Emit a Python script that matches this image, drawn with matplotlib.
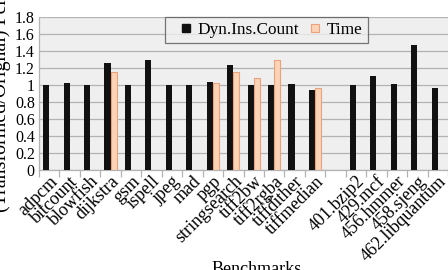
import matplotlib
matplotlib.use("Agg")
import matplotlib.pyplot as plt
from matplotlib.lines import Line2D
import numpy as np

categories = ["adpcm", "bitcount", "blowfish", "dijkstra", "gsm", "ispell", "jpeg",
              "mad", "pgp", "stringsearch", "tiff2bw", "tiff2rgba", "tiffdither",
              "tiffmedian", "", "401.bzip2", "429.mcf", "456.hmmer", "458.sjeng",
              "462.libquantum"]
dyn_ins = [1.00, 1.02, 1.00, 1.26, 1.00, 1.30, 1.00, 1.00, 1.04, 1.24, 1.00, 1.00,
           1.01, 0.94, np.nan, 1.00, 1.10, 1.01, 1.47, 0.97]
time_vals = [np.nan, np.nan, np.nan, 1.15, np.nan, np.nan, np.nan, np.nan, 1.02, 1.15,
             1.08, 1.30, np.nan, 0.96, np.nan, np.nan, np.nan, np.nan, np.nan, np.nan]
yticks = [0, 0.2, 0.4, 0.6, 0.8, 1, 1.2, 1.4, 1.6, 1.8]
ytick_labels = ["0", "0.2", "0.4", "0.6", "0.8", "1", "1.2", "1.4", "1.6", "1.8"]

plt.rcParams['font.family'] = ['Liberation Serif', 'DejaVu Serif']
W, H = 448, 270
fig = plt.figure(figsize=(W / 100, H / 100), dpi=100)
left, right, top, bottom = 39, 448, 17, 170
ax = fig.add_axes([left / W, 1 - bottom / H, (right - left) / W, (bottom - top) / H])
ax.set_facecolor("#efefef")

dyn_color, time_color, time_edge = "#111111", "#fdd3b6", "#e9a27e"
x = np.arange(len(categories))
w = 0.3
ax.bar(x - w / 2, dyn_ins, width=w, color=dyn_color, zorder=3)
ax.bar(x + w / 2, time_vals, width=w, color=time_color, edgecolor=time_edge,
       linewidth=0.8, zorder=3)

ax.set_xlim(-0.5, len(categories) - 0.5)
ax.set_ylim(0, 1.8)
ax.set_yticks(yticks)
ax.set_yticklabels(ytick_labels, fontsize=11.5)
ax.yaxis.grid(True, color="#b3b3b3", linewidth=0.9, zorder=0)
ax.tick_params(axis='y', length=0, pad=3)

ax.set_xticks(x)
ax.set_xticklabels(categories, rotation=45, ha='right', rotation_mode='anchor', fontsize=13)
ax.tick_params(axis='x', length=0, pad=2)
ax.set_xticks(np.arange(-0.5, len(categories), 1), minor=True)
ax.tick_params(axis='x', which='minor', length=5, color="#b3b3b3", width=0.9)

for s in ["top", "right"]:
    ax.spines[s].set_visible(False)
for s in ["left", "bottom"]:
    ax.spines[s].set_color("#b3b3b3")
    ax.spines[s].set_linewidth(0.9)

fig.text(11 / W, 1 - 99.5 / H, "(Transformed/Orignal) Perf.", rotation=90,
         ha='right', va='center', fontsize=14.4)
fig.text(257 / W, 1 - 274 / H, "Benchmarks", ha='center', va='baseline', fontsize=13)

handles = [Line2D([], [], marker='s', linestyle='none', markersize=6,
                  markerfacecolor=dyn_color, markeredgecolor=dyn_color),
           Line2D([], [], marker='s', linestyle='none', markersize=6,
                  markerfacecolor=time_color, markeredgecolor=time_edge, markeredgewidth=0.8)]
leg = ax.legend(handles, ["Dyn.Ins.Count", "Time"], loc='upper left',
                bbox_to_anchor=(165 / W, 1 - 17 / H), bbox_transform=fig.transFigure,
                ncol=2, fontsize=12.4, frameon=True, fancybox=False, handlelength=1.8,
                handletextpad=-0.2, columnspacing=0.0,
                borderpad=0.3, borderaxespad=0)
leg.get_frame().set_edgecolor("#555555")
leg.get_frame().set_facecolor("#efefef")
leg.get_frame().set_linewidth(0.9)

fig.savefig("out.png", dpi=100)
